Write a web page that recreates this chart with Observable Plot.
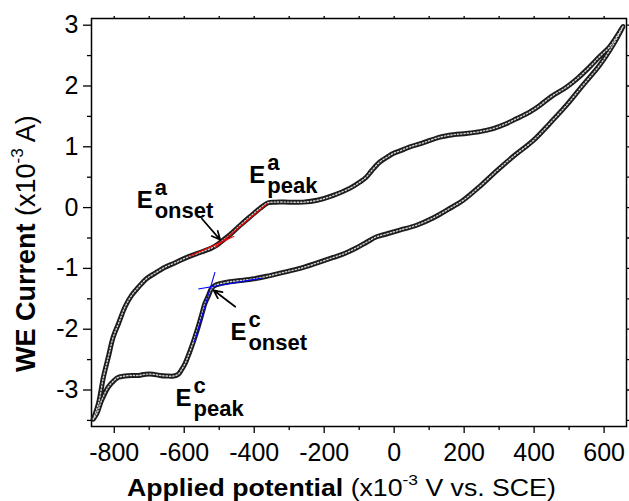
<!DOCTYPE html>
<html><head><meta charset="utf-8">
<script src="https://cdn.jsdelivr.net/npm/d3@7"></script>
<script src="https://cdn.jsdelivr.net/npm/@observablehq/plot@0.6"></script>
<style>
body{margin:0;background:#fff}
svg{font-family:"Liberation Sans",Arial,sans-serif}
</style>
</head><body><div id="chart"></div>
<script>
// Forward (anodic) sweep: potential (x10^-3 V vs SCE), current (x10^-3 A)
const potentialForward = [-860,-845,-831,-817,-803,-788,-769,-750,-731,-708,-684,-655,-627,-589,-551,-520,-503,-492,-470,-440,-412,-383,-360,-340,-300,-260,-220,-174,-126,-98,-80,-64,-41,-20,-3,20,45,80,131,170,206,245,283,320,349,387,416,450,492,525,558,590,615,640,654];
const currentForward   = [-3.48,-3.22,-2.79,-2.46,-2.13,-1.91,-1.63,-1.44,-1.31,-1.17,-1.08,-0.98,-0.91,-0.81,-0.73,-0.66,-0.60,-0.55,-0.45,-0.29,-0.15,-0.01,0.08,0.09,0.09,0.09,0.12,0.20,0.32,0.42,0.50,0.61,0.75,0.83,0.89,0.94,1.00,1.06,1.16,1.20,1.22,1.25,1.30,1.38,1.46,1.57,1.68,1.83,1.98,2.13,2.31,2.50,2.64,2.85,2.98];
// Reverse (cathodic) sweep
const potentialReverse = [649,625,587,539,492,444,397,340,292,245,197,154,111,64,16,-20,-50,-79,-107,-140,-174,-220,-269,-320,-364,-400,-440,-470,-497,-512,-522,-531,-541,-550,-560,-570,-579,-590,-598,-608,-617,-630,-650,-670,-690,-710,-730,-750,-770,-788,-800,-817,-836,-850,-860];
const currentReverse   = [2.92,2.67,2.34,2.01,1.68,1.38,1.10,0.84,0.60,0.35,0.12,-0.03,-0.17,-0.29,-0.37,-0.43,-0.48,-0.57,-0.66,-0.75,-0.82,-0.91,-1.00,-1.07,-1.13,-1.17,-1.20,-1.22,-1.25,-1.28,-1.33,-1.45,-1.58,-1.76,-1.96,-2.14,-2.29,-2.46,-2.57,-2.67,-2.74,-2.77,-2.77,-2.76,-2.74,-2.74,-2.76,-2.76,-2.77,-2.79,-2.84,-2.95,-3.17,-3.39,-3.48];

const xTicks = [-800,-600,-400,-200,0,200,400,600];
const xMinorTicks = [-700,-500,-300,-100,100,300,500];
const yTicks = [-3,-2,-1,0,1,2,3];
const yMinorTicks = [-3.5,-2.5,-1.5,-0.5,0.5,1.5,2.5];

// tangent construction lines
const anodicTangentX1 = [-585,-512], anodicTangentY1 = [-0.80,-0.66];
const anodicTangentX2 = [-457,-362], anodicTangentY2 = [-0.47,0.07];
const cathodicTangentX1 = [-560,-571], cathodicTangentY1 = [-1.34,-2.21];
const cathodicTangentX2 = [-378,-512], cathodicTangentY2 = [-1.16,-1.06];

// annotation arrows (from label to onset point)
const arrowX1 = [-550,-454], arrowY1 = [-0.18,-1.63];
const arrowX2 = [-497,-516], arrowY2 = [-0.53,-1.36];

// annotation labels E^sup_sub
const labelX = [-736,-414,-468,-625];
const labelY = [-0.01,0.40,-2.18,-3.27];
const labelSup = ["a","a","c","c"];
const labelSub = ["onset","peak","onset","peak"];

const cv = [
  ...potentialForward.map((x,i)=>({x, y: currentForward[i]})),
  ...potentialReverse.map((x,i)=>({x, y: currentReverse[i]}))
];
const seg = (X1,Y1,X2,Y2) => X1.map((x1,i)=>({x1, y1:Y1[i], x2:X2[i], y2:Y2[i]}));
const anodicTangents = seg(anodicTangentX1,anodicTangentY1,anodicTangentX2,anodicTangentY2);
const cathodicTangents = seg(cathodicTangentX1,cathodicTangentY1,cathodicTangentX2,cathodicTangentY2);
const arrows = seg(arrowX1,arrowY1,arrowX2,arrowY2);
const labels = labelX.map((x,i)=>({x, y: labelY[i], sup: labelSup[i], sub: labelSub[i]}));

const fmt = d => String(d);
const blank = () => "";

const chart = Plot.plot({
  width: 629, height: 501,
  marginLeft: 91, marginRight: 3, marginTop: 18, marginBottom: 75,
  x: {domain: [-865, 664]},
  y: {domain: [-3.6, 3.11]},
  style: {fontFamily: "'Liberation Sans', Arial, sans-serif", fontSize: "25px", color: "black", background: "white", overflow: "visible"},
  marks: [
    Plot.axisX(xTicks, {tickSize: 7, tickPadding: 10, tickFormat: fmt, label: null, fontSize: 25, strokeWidth: 1.3}),
    Plot.axisX(xMinorTicks, {tickSize: 4, tickFormat: blank, label: null, strokeWidth: 1.3}),
    Plot.axisX([...xTicks, ...xMinorTicks], {anchor: "top", tickSize: 3, tickFormat: blank, label: null, strokeWidth: 1.3}),
    Plot.axisY(yTicks, {tickSize: 8, tickPadding: 5, tickFormat: fmt, label: null, fontSize: 25, strokeWidth: 1.3}),
    Plot.axisY(yMinorTicks, {tickSize: 4, tickFormat: blank, label: null, strokeWidth: 1.3}),
    Plot.axisY([...yTicks, ...yMinorTicks], {anchor: "right", tickSize: 3, tickFormat: blank, label: null, strokeWidth: 1.3}),
    Plot.frame({stroke: "black", strokeWidth: 1.5}),
    Plot.line(cv, {x: "x", y: "y", stroke: "#1c1c1c", strokeWidth: 5, curve: "catmull-rom"}),
    Plot.line(cv, {x: "x", y: "y", stroke: "#ffffff", strokeWidth: 1.4, strokeOpacity: 0.8, strokeDasharray: "1.3,2", curve: "catmull-rom"}),
    Plot.link(anodicTangents, {x1: "x1", y1: "y1", x2: "x2", y2: "y2", stroke: "#ff0000", strokeWidth: 1.1}),
    Plot.link(cathodicTangents, {x1: "x1", y1: "y1", x2: "x2", y2: "y2", stroke: "#0000ff", strokeWidth: 1.1}),
    Plot.arrow(arrows, {x1: "x1", y1: "y1", x2: "x2", y2: "y2", stroke: "black", strokeWidth: 1.7, headLength: 9, headAngle: 50}),
    Plot.text(labels, {x: "x", y: "y", text: () => "E", fontSize: 24, fontWeight: "bold", textAnchor: "start", lineAnchor: "bottom", fill: "black"}),
    Plot.text(labels, {x: "x", y: "y", text: "sup", dx: 18, dy: -13, fontSize: 22, fontWeight: "bold", textAnchor: "start", lineAnchor: "bottom", fill: "black"}),
    Plot.text(labels, {x: "x", y: "y", text: "sub", dx: 18, dy: 10, fontSize: 22, fontWeight: "bold", textAnchor: "start", lineAnchor: "bottom", fill: "black"})
  ]
});

const sel = d3.select(chart);
// x axis label
const xl = sel.append("text")
  .attr("transform", "translate(127,496) scale(1.16,1)")
  .attr("text-anchor", "start")
  .attr("font-size", 23).attr("fill", "black");
xl.append("tspan").attr("font-weight", "bold").text("Applied potential");
xl.append("tspan").text(" (x10");
xl.append("tspan").attr("font-size", 15).attr("dy", -11).text("-3");
xl.append("tspan").attr("dy", 11).text(" V vs. SCE)");
// y axis label
const yl = sel.append("text")
  .attr("transform", "translate(35,372) rotate(-90)")
  .attr("text-anchor", "start")
  .attr("font-size", 27).attr("fill", "black");
yl.append("tspan").attr("font-weight", "bold").text("WE Current");
yl.append("tspan").text(" (x10");
yl.append("tspan").attr("font-size", 17).attr("dy", -12).text("-3");
yl.append("tspan").attr("dy", 12).text(" A)");

document.getElementById("chart").appendChild(chart);
</script>
</body></html>
